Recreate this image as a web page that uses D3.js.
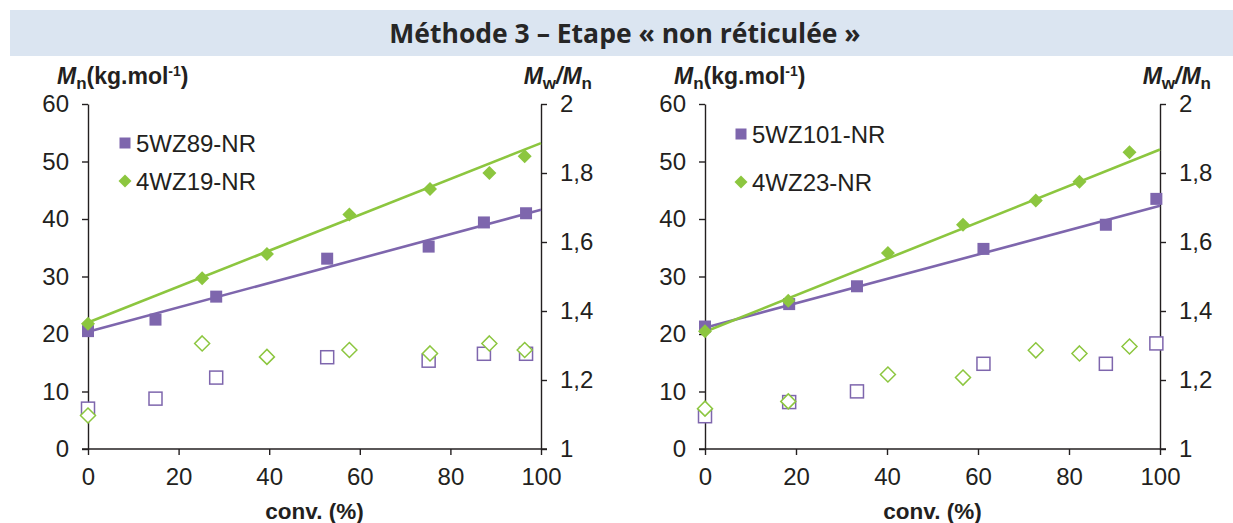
<!DOCTYPE html>
<html>
<head>
<meta charset="utf-8">
<script src="https://cdn.jsdelivr.net/npm/d3@7"></script>
<style>
  html, body { margin: 0; padding: 0; background: #fff; }
  svg { display: block; }
  .tick text { font-family: "Liberation Sans", Arial, sans-serif; font-size: 24px; fill: #231f20; }
  .axis path, .axis line { stroke: #231f20; stroke-width: 1.4; }
</style>
</head>
<body>
<svg id="chart" width="1233" height="523"></svg>
<script>
// ---- data ----------------------------------------------------------------
const titleText = "Méthode 3 – Etape « non réticulée »";
const xTicks = [0, 20, 40, 60, 80, 100];
const yLeftTicks = [0, 10, 20, 30, 40, 50, 60];
const yRightTicks = [1, 1.2, 1.4, 1.6, 1.8, 2];

// left panel
const convA1 = [0, 14.9, 28.3, 52.8, 75.2, 87.4, 96.7];          // 5WZ89-NR
const mnA1   = [20.5, 22.5, 26.5, 33.1, 35.2, 39.4, 41.0];
const dispA1 = [1.117, 1.146, 1.207, 1.266, 1.256, 1.276, 1.276];
const fitA1  = [20.4, 41.6];                                       // Mn at conv 0 and 100
const convA2 = [0, 25.2, 39.5, 57.7, 75.5, 88.6, 96.4];          // 4WZ19-NR
const mnA2   = [21.8, 29.7, 33.9, 40.8, 45.2, 48.0, 50.9];
const dispA2 = [1.097, 1.306, 1.267, 1.287, 1.277, 1.306, 1.287];
const fitA2  = [22.0, 53.2];

// right panel
const convB1 = [0, 18.5, 33.4, 61.2, 88.1, 99.2];                // 5WZ101-NR
const mnB1   = [21.3, 25.2, 28.3, 34.8, 39.0, 43.5];
const dispB1 = [1.095, 1.136, 1.167, 1.247, 1.247, 1.306];
const fitB1  = [21.1, 42.3];
const convB2 = [0, 18.3, 40.2, 56.7, 72.7, 82.3, 93.3];          // 4WZ23-NR
const mnB2   = [20.5, 25.8, 34.1, 39.0, 43.2, 46.5, 51.6];
const dispB2 = [1.117, 1.138, 1.216, 1.207, 1.286, 1.277, 1.297];
const fitB2  = [20.4, 52.1];

const purple = "#7e66ad";
const green  = "#8cc63f";

// ---- drawing ---------------------------------------------------------------
const svg = d3.select("#chart");
svg.append("rect").attr("width", 1233).attr("height", 523).attr("fill", "#fff");

// title band
svg.append("rect").attr("x", 10).attr("y", 10).attr("width", 1223).attr("height", 46)
  .attr("fill", "#dbe5f1");
svg.append("text").attr("x", 625).attr("y", 43).attr("text-anchor", "middle")
  .attr("font-family", "'Open Sans', sans-serif").attr("font-weight", 700)
  .attr("font-size", 26.5).attr("fill", "#262626").text(titleText);

const fmtRight = d => (d === 1 || d === 2) ? String(d) : d.toFixed(1).replace(".", ",");

function panel(cfg) {
  const g = svg.append("g");
  const x = d3.scaleLinear().domain([0, 100]).range([cfg.x0, cfg.x1]);
  const yL = d3.scaleLinear().domain([0, 60]).range([449, 104]);
  const yR = d3.scaleLinear().domain([1, 2]).range([449, 104]);

  g.append("g").attr("class", "axis").attr("transform", `translate(0,449)`)
    .call(d3.axisBottom(x).tickValues(xTicks).tickSize(6).tickSizeOuter(0).tickPadding(13))
    .call(a => a.select(".domain").attr("d", `M${cfg.x0 - 6},0H${cfg.x1 + 6}`));
  g.append("g").attr("class", "axis").attr("transform", `translate(${cfg.x0},0)`)
    .call(d3.axisLeft(yL).tickValues(yLeftTicks).tickSize(6).tickSizeOuter(0).tickPadding(13));
  g.append("g").attr("class", "axis").attr("transform", `translate(${cfg.x1},0)`)
    .call(d3.axisRight(yR).tickValues(yRightTicks).tickFormat(fmtRight)
      .tickSize(6).tickSizeOuter(0).tickPadding(13));
  g.selectAll(".domain").attr("fill", "none");

  // axis titles
  const tf = "'Liberation Sans', Arial, sans-serif";
  const mn = g.append("text").attr("x", cfg.x0 - 31).attr("y", 84)
    .attr("font-family", tf).attr("font-weight", 700).attr("font-size", 23).attr("fill", "#231f20");
  mn.append("tspan").attr("font-style", "italic").text("M");
  mn.append("tspan").attr("font-size", 17).attr("dy", 5).text("n");
  mn.append("tspan").attr("dy", -5).text("(kg.mol");
  mn.append("tspan").attr("font-size", 14).attr("dy", -8).text("-1");
  mn.append("tspan").attr("dy", 8).text(")");

  const mw = g.append("text").attr("x", cfg.x1 + 51).attr("y", 84).attr("text-anchor", "end")
    .attr("font-family", tf).attr("font-weight", 700).attr("font-size", 23).attr("fill", "#231f20");
  mw.append("tspan").attr("font-style", "italic").text("M");
  mw.append("tspan").attr("font-size", 17).attr("dy", 5).text("w");
  mw.append("tspan").attr("dy", -5).attr("font-style", "italic").text("/M");
  mw.append("tspan").attr("font-size", 17).attr("dy", 5).text("n");

  g.append("text").attr("x", (cfg.x0 + cfg.x1) / 2).attr("y", 519).attr("text-anchor", "middle")
    .attr("font-family", tf).attr("font-weight", 700).attr("font-size", 22.5).attr("fill", "#231f20")
    .text("conv. (%)");

  // trend lines
  const line = d3.line().x(d => x(d[0])).y(d => yL(d[1]));
  [[cfg.fit1, purple], [cfg.fit2, green]].forEach(([f, c]) => {
    g.append("path").attr("d", line([[0, f[0]], [100, f[1]]]))
      .attr("stroke", c).attr("stroke-width", 2.6).attr("fill", "none");
  });

  const dia = (s) => `M0,${-s}L${s},0L0,${s}L${-s},0Z`;

  // open markers: dispersity on the right axis
  g.selectAll(null).data(d3.zip(cfg.conv1, cfg.disp1)).join("rect")
    .attr("x", d => x(d[0]) - 6.5).attr("y", d => yR(d[1]) - 6.5)
    .attr("width", 13).attr("height", 13)
    .attr("fill", "#fff").attr("stroke", purple).attr("stroke-width", 1.5);
  g.selectAll(null).data(d3.zip(cfg.conv2, cfg.disp2)).join("path")
    .attr("transform", d => `translate(${x(d[0])},${yR(d[1])})`)
    .attr("d", dia(7.5)).attr("fill", "#fff").attr("stroke", green).attr("stroke-width", 1.5);

  // filled markers: Mn on the left axis
  g.selectAll(null).data(d3.zip(cfg.conv1, cfg.mn1)).join("rect")
    .attr("x", d => x(d[0]) - 6).attr("y", d => yL(d[1]) - 6)
    .attr("width", 12).attr("height", 12).attr("fill", purple);
  g.selectAll(null).data(d3.zip(cfg.conv2, cfg.mn2)).join("path")
    .attr("transform", d => `translate(${x(d[0])},${yL(d[1])})`)
    .attr("d", dia(7)).attr("fill", green);

  // legend
  const lg = g.append("g").attr("transform", `translate(${cfg.lx},0)`);
  lg.append("rect").attr("x", -5.5).attr("y", cfg.ly1 - 5.5).attr("width", 11).attr("height", 11)
    .attr("fill", purple);
  lg.append("path").attr("transform", `translate(0,${cfg.ly2})`).attr("d", dia(6.5)).attr("fill", green);
  lg.append("text").attr("x", 11).attr("y", cfg.ly1 + 8.5).attr("font-family", tf)
    .attr("font-size", 24).attr("fill", "#231f20").text(cfg.name1);
  lg.append("text").attr("x", 11).attr("y", cfg.ly2 + 8.5).attr("font-family", tf)
    .attr("font-size", 24).attr("fill", "#231f20").text(cfg.name2);
}

panel({
  x0: 88, x1: 541, lx: 125, ly1: 143, ly2: 181,
  conv1: convA1, mn1: mnA1, disp1: dispA1, fit1: fitA1, name1: "5WZ89-NR",
  conv2: convA2, mn2: mnA2, disp2: dispA2, fit2: fitA2, name2: "4WZ19-NR"
});
panel({
  x0: 705, x1: 1160, lx: 741, ly1: 134, ly2: 182,
  conv1: convB1, mn1: mnB1, disp1: dispB1, fit1: fitB1, name1: "5WZ101-NR",
  conv2: convB2, mn2: mnB2, disp2: dispB2, fit2: fitB2, name2: "4WZ23-NR"
});
</script>
</body>
</html>
